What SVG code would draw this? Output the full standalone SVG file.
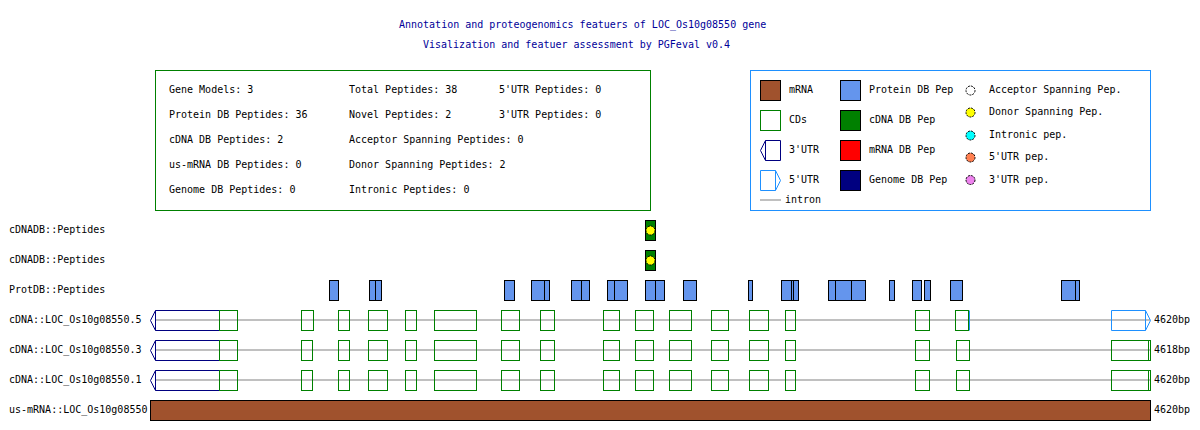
<svg xmlns="http://www.w3.org/2000/svg" width="1200" height="430" viewBox="0 0 1200 430">
<style>
text{font-family:"DejaVu Sans Mono","Liberation Mono",monospace;font-size:10px;fill:#000}
.title{fill:#000099}
.cds{fill:none;stroke:#008000;stroke-width:1}
.utr3{fill:none;stroke:#000080;stroke-width:1}
.utr5{fill:none;stroke:#1E90FF;stroke-width:1}
.intron{stroke:#C0C0C0;stroke-width:2}
.pep{fill:#6495ED;stroke:#000;stroke-width:1}
.cpep{fill:#008000;stroke:#000;stroke-width:1}
.dot{stroke:#000;stroke-width:1;stroke-dasharray:2,1}
</style>
<rect width="1200" height="430" fill="#fff"/>
<g id="title">
<text class="title" x="399" y="27.5">Annotation and proteogenomics featuers of LOC_Os10g08550 gene</text>
<text class="title" x="423" y="47.5">Visalization and featuer assessment by PGFeval v0.4</text>
</g>
<g id="stats">
<rect x="155.5" y="70.5" width="495" height="140" fill="#fff" stroke="#008000"/>
<text x="169" y="92.5">Gene Models: 3</text>
<text x="169" y="117.5">Protein DB Peptides: 36</text>
<text x="169" y="142.5">cDNA DB Peptides: 2</text>
<text x="169" y="167.5">us-mRNA DB Peptides: 0</text>
<text x="169" y="192.5">Genome DB Peptides: 0</text>
<text x="349" y="92.5">Total Peptides: 38</text>
<text x="349" y="117.5">Novel Peptides: 2</text>
<text x="349" y="142.5">Acceptor Spanning Peptides: 0</text>
<text x="349" y="167.5">Donor Spanning Peptides: 2</text>
<text x="349" y="192.5">Intronic Peptides: 0</text>
<text x="499" y="92.5">5'UTR Peptides: 0</text>
<text x="499" y="117.5">3'UTR Peptides: 0</text>
</g>
<g id="legend">
<rect x="750.5" y="70.5" width="400" height="140" fill="#fff" stroke="#1E90FF"/>
<rect x="760.5" y="80.5" width="20" height="20" fill="#A0522D" stroke="#000"/>
<text x="789" y="93">mRNA</text>
<rect class="cds" x="760.5" y="110.5" width="20" height="20"/>
<text x="789" y="123">CDs</text>
<path class="utr3" d="M780.5,140.5 H765.5 L760.5,150.5 L765.5,160.5 H780.5 Z M765.5,140.5 V160.5"/>
<text x="789" y="153">3'UTR</text>
<path class="utr5" d="M760.5,170.5 H775.5 L780.5,180.5 L775.5,190.5 H760.5 Z M775.5,170.5 V190.5"/>
<text x="789" y="183">5'UTR</text>
<line class="intron" x1="760" y1="200" x2="781" y2="200"/>
<text x="785" y="203">intron</text>
<rect x="840.5" y="80.5" width="20" height="20" fill="#6495ED" stroke="#000"/>
<text x="869" y="93">Protein DB Pep</text>
<rect x="840.5" y="110.5" width="20" height="20" fill="#008000" stroke="#000"/>
<text x="869" y="123">cDNA DB Pep</text>
<rect x="840.5" y="140.5" width="20" height="20" fill="#FF0000" stroke="#000"/>
<text x="869" y="153">mRNA DB Pep</text>
<rect x="840.5" y="170.5" width="20" height="20" fill="#000080" stroke="#000"/>
<text x="869" y="183">Genome DB Pep</text>
<circle class="dot" cx="970.5" cy="90.5" r="4.5" fill="#fff"/>
<text x="989" y="93">Acceptor Spanning Pep.</text>
<circle class="dot" cx="970.5" cy="112.5" r="4.5" fill="#FFFF00"/>
<text x="989" y="115">Donor Spanning Pep.</text>
<circle class="dot" cx="970.5" cy="135.5" r="4.5" fill="#00FFFF"/>
<text x="989" y="138">Intronic pep.</text>
<circle class="dot" cx="970.5" cy="157.5" r="4.5" fill="#FF7F50"/>
<text x="989" y="160">5'UTR pep.</text>
<circle class="dot" cx="970.5" cy="180" r="4.5" fill="#EE82EE"/>
<text x="989" y="183">3'UTR pep.</text>
</g>
<g id="track-labels">
<text x="9" y="233">cDNADB::Peptides</text>
<text x="9" y="262.5">cDNADB::Peptides</text>
<text x="9" y="292.5">ProtDB::Peptides</text>
<text x="9" y="323">cDNA::LOC_Os10g08550.5</text>
<text x="9" y="352.5">cDNA::LOC_Os10g08550.3</text>
<text x="9" y="382.5">cDNA::LOC_Os10g08550.1</text>
<text x="9" y="412.5">us-mRNA::LOC_Os10g08550</text>
</g>
<g id="cdna-peptides-1">
<rect class="cpep" x="645.5" y="220.5" width="10" height="20"/>
<circle class="dot" cx="650.5" cy="230.5" r="4.5" fill="#FFFF00"/>
</g>
<g id="cdna-peptides-2">
<rect class="cpep" x="645.5" y="250.5" width="10" height="20"/>
<circle class="dot" cx="650.5" cy="260.5" r="4.5" fill="#FFFF00"/>
</g>
<g id="protdb-peptides">
<rect class="pep" x="329.5" y="280.5" width="9" height="20"/>
<rect class="pep" x="369.5" y="280.5" width="6" height="20"/>
<rect class="pep" x="375.5" y="280.5" width="6" height="20"/>
<rect class="pep" x="504.5" y="280.5" width="10" height="20"/>
<rect class="pep" x="531.5" y="280.5" width="13" height="20"/>
<rect class="pep" x="544.5" y="280.5" width="5" height="20"/>
<rect class="pep" x="571.5" y="280.5" width="14" height="20"/>
<rect class="pep" x="581.5" y="280.5" width="8" height="20"/>
<rect class="pep" x="607.5" y="280.5" width="7" height="20"/>
<rect class="pep" x="614.5" y="280.5" width="13" height="20"/>
<rect class="pep" x="645.5" y="280.5" width="13" height="20"/>
<rect class="pep" x="655.5" y="280.5" width="9" height="20"/>
<rect class="pep" x="683.5" y="280.5" width="13" height="20"/>
<rect class="pep" x="748.5" y="280.5" width="4" height="20"/>
<rect class="pep" x="781.5" y="280.5" width="12" height="20"/>
<rect class="pep" x="791.5" y="280.5" width="6" height="20"/>
<rect class="pep" x="793.5" y="280.5" width="5" height="20"/>
<rect class="pep" x="828.5" y="280.5" width="23" height="20"/>
<rect class="pep" x="835.5" y="280.5" width="30" height="20"/>
<rect class="pep" x="851.5" y="280.5" width="14" height="20"/>
<rect class="pep" x="889.5" y="280.5" width="5" height="20"/>
<rect class="pep" x="912.5" y="280.5" width="9" height="20"/>
<rect class="pep" x="924.5" y="280.5" width="6" height="20"/>
<rect class="pep" x="950.5" y="280.5" width="12" height="20"/>
<rect class="pep" x="1061.5" y="280.5" width="14" height="20"/>
<rect class="pep" x="1075.5" y="280.5" width="4" height="20"/>
</g>
<g id="connectors">
<line class="intron" x1="155" y1="320" x2="1150" y2="320"/>
<line class="intron" x1="155" y1="350" x2="1150" y2="350"/>
<line class="intron" x1="155" y1="380" x2="1150" y2="380"/>
</g>
<g id="model-5">
<path class="utr3" d="M219.5,310.5 H155.5 L150.5,320.5 L155.5,330.5 H219.5 Z M155.5,310.5 V330.5"/>
<rect class="cds" x="219.5" y="310.5" width="18" height="20"/>
<rect class="cds" x="301.5" y="310.5" width="12" height="20"/>
<rect class="cds" x="338.5" y="310.5" width="11" height="20"/>
<rect class="cds" x="368.5" y="310.5" width="19" height="20"/>
<rect class="cds" x="405.5" y="310.5" width="11" height="20"/>
<rect class="cds" x="434.5" y="310.5" width="42" height="20"/>
<rect class="cds" x="501.5" y="310.5" width="18" height="20"/>
<rect class="cds" x="540.5" y="310.5" width="14" height="20"/>
<rect class="cds" x="603.5" y="310.5" width="16" height="20"/>
<rect class="cds" x="635.5" y="310.5" width="18" height="20"/>
<rect class="cds" x="669.5" y="310.5" width="22" height="20"/>
<rect class="cds" x="711.5" y="310.5" width="17" height="20"/>
<rect class="cds" x="749.5" y="310.5" width="19" height="20"/>
<rect class="cds" x="785.5" y="310.5" width="10" height="20"/>
<rect class="cds" x="915.5" y="310.5" width="14" height="20"/>
<rect class="cds" x="955.5" y="310.5" width="13" height="20"/>
<line class="utr5" x1="969.5" y1="310.5" x2="969.5" y2="330.5"/>
<path class="utr5" d="M1111.5,310.5 H1145.5 L1150.5,320.5 L1145.5,330.5 H1111.5 Z M1145.5,310.5 V330.5"/>
<text x="1154" y="323">4620bp</text>
</g>
<g id="model-3">
<path class="utr3" d="M219.5,340.5 H155.5 L150.5,350.5 L155.5,360.5 H219.5 Z M155.5,340.5 V360.5"/>
<rect class="cds" x="219.5" y="340.5" width="18" height="20"/>
<rect class="cds" x="301.5" y="340.5" width="11" height="20"/>
<rect class="cds" x="338.5" y="340.5" width="11" height="20"/>
<rect class="cds" x="368.5" y="340.5" width="19" height="20"/>
<rect class="cds" x="405.5" y="340.5" width="11" height="20"/>
<rect class="cds" x="434.5" y="340.5" width="42" height="20"/>
<rect class="cds" x="501.5" y="340.5" width="18" height="20"/>
<rect class="cds" x="540.5" y="340.5" width="14" height="20"/>
<rect class="cds" x="603.5" y="340.5" width="16" height="20"/>
<rect class="cds" x="635.5" y="340.5" width="18" height="20"/>
<rect class="cds" x="669.5" y="340.5" width="22" height="20"/>
<rect class="cds" x="711.5" y="340.5" width="17" height="20"/>
<rect class="cds" x="749.5" y="340.5" width="19" height="20"/>
<rect class="cds" x="785.5" y="340.5" width="10" height="20"/>
<rect class="cds" x="915.5" y="340.5" width="14" height="20"/>
<rect class="cds" x="956.5" y="340.5" width="13" height="20"/>
<rect class="cds" x="1111.5" y="340.5" width="37" height="20"/>
<rect class="cds" x="1148.5" y="340.5" width="2" height="20"/>
<text x="1154" y="353">4618bp</text>
</g>
<g id="model-1">
<path class="utr3" d="M219.5,370.5 H155.5 L150.5,380.5 L155.5,390.5 H219.5 Z M155.5,370.5 V390.5"/>
<rect class="cds" x="219.5" y="370.5" width="18" height="20"/>
<rect class="cds" x="301.5" y="370.5" width="11" height="20"/>
<rect class="cds" x="338.5" y="370.5" width="11" height="20"/>
<rect class="cds" x="368.5" y="370.5" width="19" height="20"/>
<rect class="cds" x="405.5" y="370.5" width="11" height="20"/>
<rect class="cds" x="434.5" y="370.5" width="42" height="20"/>
<rect class="cds" x="501.5" y="370.5" width="18" height="20"/>
<rect class="cds" x="540.5" y="370.5" width="14" height="20"/>
<rect class="cds" x="603.5" y="370.5" width="16" height="20"/>
<rect class="cds" x="635.5" y="370.5" width="18" height="20"/>
<rect class="cds" x="669.5" y="370.5" width="22" height="20"/>
<rect class="cds" x="711.5" y="370.5" width="17" height="20"/>
<rect class="cds" x="749.5" y="370.5" width="19" height="20"/>
<rect class="cds" x="785.5" y="370.5" width="10" height="20"/>
<rect class="cds" x="915.5" y="370.5" width="14" height="20"/>
<rect class="cds" x="956.5" y="370.5" width="13" height="20"/>
<rect class="cds" x="1111.5" y="370.5" width="37" height="20"/>
<rect class="cds" x="1148.5" y="370.5" width="2" height="20"/>
<text x="1154" y="383">4620bp</text>
</g>
<g id="us-mrna">
<rect x="150.5" y="400.5" width="1000" height="20" fill="#A0522D" stroke="#000"/>
<text x="1154" y="413">4620bp</text>
</g>
</svg>
